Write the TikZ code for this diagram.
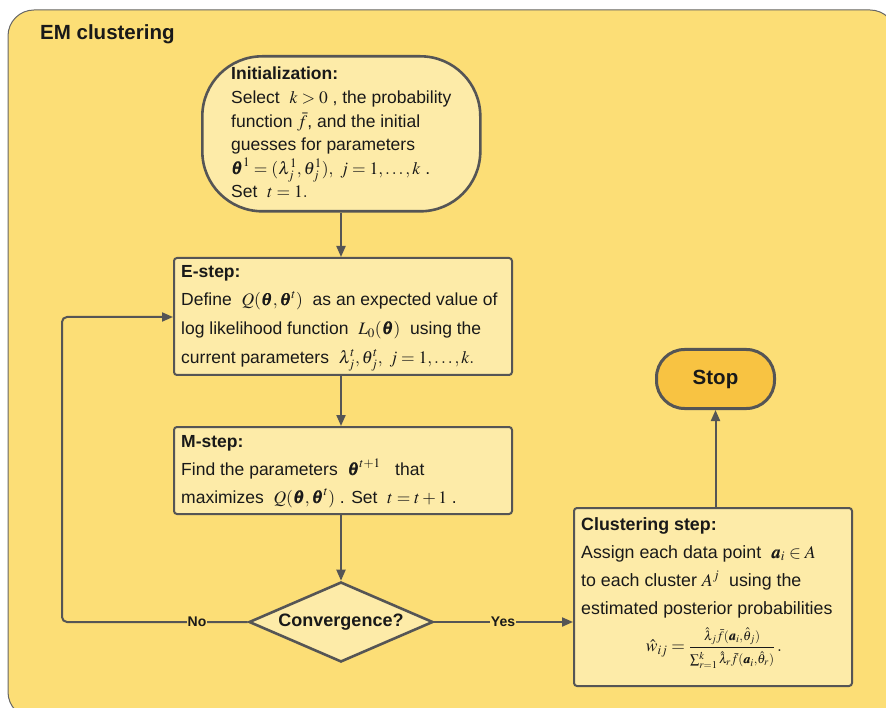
\documentclass[tikz,border=0pt]{standalone}
\usepackage{amsmath}
\usepackage{mathptmx}
\usepackage{bm}
\usepackage[no-math]{fontspec}
\setmainfont{Liberation Sans}
\usetikzlibrary{shapes.geometric,arrows.meta}
\definecolor{panel}{RGB}{252,222,118}
\definecolor{boxfill}{RGB}{253,235,168}
\definecolor{stopfill}{RGB}{248,195,66}
\definecolor{edge}{RGB}{85,85,85}
\definecolor{ink}{RGB}{25,25,25}
\tikzset{
  stepbox/.style={draw=edge, line width=2pt, fill=boxfill, rounded corners=3pt,
    anchor=north west, inner sep=0pt},
  steptext/.style={anchor=north west, align=left, inner sep=0pt, text=ink},
  flow/.style={draw=edge, line width=2pt, -{Triangle[length=11pt,width=9pt]}, rounded corners=5pt},
  lbl/.style={fill=panel, inner sep=1pt, text=ink, font=\bfseries\fontsize{14}{16}\selectfont}
}
\begin{document}
\begin{tikzpicture}[x=1pt,y=-1pt]
\useasboundingbox (0,0) rectangle (886,708);
% outer panel
\draw[draw=edge!90, line width=1pt, fill=panel, rounded corners=26pt] (8,10) rectangle (896,718);
\node[anchor=west, text=ink, font=\bfseries\fontsize{20.5}{24}\selectfont, inner sep=0pt] (title) at (40,34) {EM clustering};

% initialization
\node[draw=edge, line width=2.6pt, fill=boxfill, rounded corners=60pt, minimum width=278pt, minimum height=155pt, anchor=north west, inner sep=0pt] (init) at (201,55) {};
\node[steptext, font=\fontsize{17.5}{23.6}\selectfont] (inittext) at (231,67) {%
\textbf{Initialization:}\\
Select \ $k>0$ , the probability\\
function $\bar f$, and the initial\\
guesses for parameters\\
$\bm{\theta}^1=(\lambda_j^1,\theta_j^1),\ j=1,\ldots,k$ .\\
Set \ $t=1.$};

% E-step
\node[stepbox, minimum width=338pt, minimum height=117pt] (estep) at (173,257) {};
\node[steptext, font=\fontsize{17.5}{28.6}\selectfont] (etext) at (181,265) {%
\textbf{E-step:}\\
Define \ $Q(\bm{\theta},\bm{\theta}^t)$ \ as an expected value of\\
log likelihood function \ $L_0(\bm{\theta})$ \ using the\\
current parameters \ $\lambda_j^t,\theta_j^t,\ j=1,\ldots,k.$};

% M-step
\node[stepbox, minimum width=338pt, minimum height=87pt] (mstep) at (173,426) {};
\node[steptext, font=\fontsize{17.5}{28}\selectfont] (mtext) at (181,435) {%
\textbf{M-step:}\\
Find the parameters \ $\bm{\theta}^{t+1}$ \ \ that\\
maximizes \ $Q(\bm{\theta},\bm{\theta}^t)$ . Set \ $t=t+1$ .};

% convergence test
\node[draw=edge, line width=2.6pt, fill=boxfill, diamond, aspect=2.3, minimum width=184pt, minimum height=80pt, inner sep=0pt, text=ink, font=\bfseries\fontsize{18}{20}\selectfont] (conv) at (341,622) {Convergence?};

% clustering step
\node[stepbox, minimum width=278pt, minimum height=178pt] (clust) at (573,507) {};
\node[steptext, font=\fontsize{17.8}{28}\selectfont] (ctext) at (581,517) {%
\textbf{Clustering step:}\\
Assign each data point \ $\bm{a}_i\in A$\\
to each cluster $A^j$ \ using the\\
estimated posterior probabilities};
\node[text=ink, inner sep=0pt, font=\fontsize{17.5}{20}\selectfont] (wfrac) at (714,648) {$\hat{w}_{ij}=\dfrac{\scriptstyle\hat{\lambda}_j\bar f(\bm{a}_i,\hat{\theta}_j)}{\scriptstyle\sum_{r=1}^k\hat{\lambda}_r\bar f(\bm{a}_i,\hat{\theta}_r)}\,.$};

% stop
\node[draw=edge, line width=3pt, fill=stopfill, rounded corners=28pt, minimum width=118pt, minimum height=59pt, anchor=north west, inner sep=0pt] (stop) at (655,348) {};
\node[text=ink, font=\bfseries\fontsize{20.5}{24}\selectfont] (stoplbl) at (stop.center) {Stop};

% connectors
\coordinate (trunk) at (341,0);
\coordinate (loop) at (62,317);
\draw[flow] (trunk |- init.south) -- (trunk |- estep.north);
\draw[flow] (trunk |- estep.south) -- (trunk |- mstep.north);
\draw[flow] (trunk |- mstep.south) -- (conv.north);
\draw[flow] (conv.west) -- (loop |- conv.west) -- (loop) -- (estep.west |- loop);
\node[lbl] (no) at (197,622) {No};
\draw[flow] (conv.east) -- (clust.west |- conv.east);
\node[lbl] (yes) at (503,622) {Yes};
\draw[flow] (clust.north -| stop.south) -- (stop.south);
\end{tikzpicture}
\end{document}
